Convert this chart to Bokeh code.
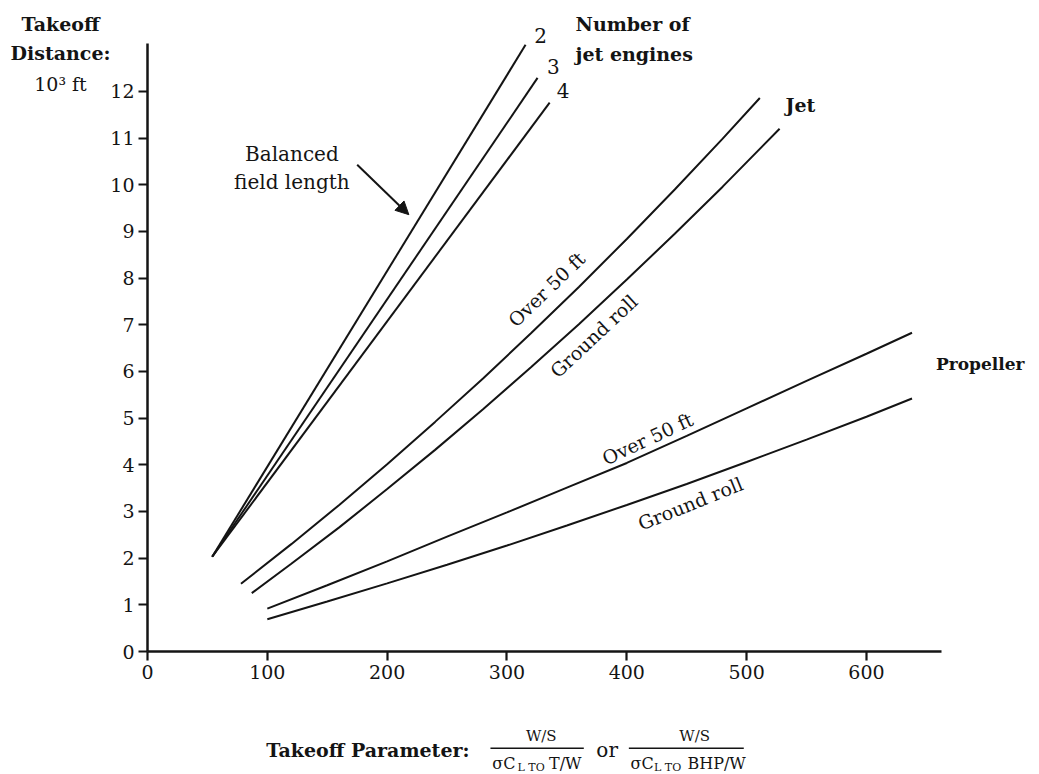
import math
from bokeh.plotting import figure
from bokeh.models import Label, Arrow, NormalHead, FixedTicker, Range1d
from bokeh.embed import file_html
from bokeh.resources import INLINE

# ---------------- data ----------------
x_ticks = [0, 100, 200, 300, 400, 500, 600]
y_ticks = list(range(0, 13))

# Balanced field length, by number of jet engines
bfl2_x = [54, 315.5]
bfl2_y = [2.03, 13.0]
bfl3_x = [54, 325.5]
bfl3_y = [2.03, 12.29]
bfl4_x = [54, 335.6]
bfl4_y = [2.03, 11.76]

# Jet
jet_over_x = [78, 120, 160, 200, 240, 280, 320, 360, 400, 440, 480, 511]
jet_over_y = [1.45, 2.30, 3.14, 4.01, 4.92, 5.85, 6.82, 7.81, 8.84, 9.90, 10.99, 11.86]
jet_ground_x = [87, 120, 160, 200, 240, 280, 320, 360, 400, 440, 480, 527.5]
jet_ground_y = [1.25, 1.88, 2.66, 3.48, 4.32, 5.19, 6.09, 7.01, 7.97, 8.95, 9.96, 11.2]

# Propeller
prop_x = [100, 150, 200, 250, 300, 350, 400, 450, 500, 550, 600, 638]
prop_over_y = [0.92, 1.42, 1.93, 2.46, 2.98, 3.51, 4.04, 4.62, 5.21, 5.80, 6.38, 6.83]
prop_ground_y = [0.69, 1.07, 1.46, 1.86, 2.27, 2.70, 3.14, 3.59, 4.06, 4.54, 5.03, 5.42]

# ---------------- figure ----------------
INK = "#141414"
SERIF = "DejaVu Serif"

W, H = 1035, 774
X0, Y0 = 147.0, 651.0          # pixel position of the origin
SX, SY = 1.1983, 46.67         # pixels per data unit

p = figure(
    width=W, height=H,
    x_range=Range1d(-X0 / SX, (W - X0) / SX),
    y_range=Range1d(-(H - Y0) / SY, Y0 / SY),
    output_backend="svg", toolbar_location=None, title=None,
    min_border=0, min_border_left=0, min_border_right=0,
    min_border_top=0, min_border_bottom=0,
)
p.xgrid.visible = False
p.ygrid.visible = False
p.outline_line_color = None
p.background_fill_color = "white"
p.border_fill_color = "white"

p.xaxis.ticker = FixedTicker(ticks=x_ticks)
p.yaxis.ticker = FixedTicker(ticks=y_ticks)
p.xaxis.fixed_location = 0
p.yaxis.fixed_location = 0
p.xaxis.bounds = (0, 662.6)
p.yaxis.bounds = (0, 13.02)
for ax in (p.xaxis, p.yaxis):
    ax.axis_line_width = 2.5
    ax.axis_line_color = INK
    ax.major_tick_line_width = 2.2
    ax.major_tick_line_color = INK
    ax.major_tick_out = 9
    ax.major_tick_in = 0
    ax.minor_tick_out = 0
    ax.minor_tick_in = 0
    ax.major_label_text_font = SERIF
    ax.major_label_text_font_size = "19px"
    ax.major_label_text_color = INK
p.xaxis.major_label_standoff = 4
p.yaxis.major_label_standoff = 4

LW = 2
for xs, ys in [(bfl2_x, bfl2_y), (bfl3_x, bfl3_y), (bfl4_x, bfl4_y),
               (jet_over_x, jet_over_y), (jet_ground_x, jet_ground_y),
               (prop_x, prop_over_y), (prop_x, prop_ground_y)]:
    p.line(xs, ys, line_color=INK, line_width=LW)


def lab(x, y, text, size="19px", bold=False, align="center", angle_deg=0.0, baseline="middle"):
    p.add_layout(Label(
        x=x, y=y, text=text, text_font=SERIF, text_font_size=size,
        text_font_style="bold" if bold else "normal", text_color=INK,
        text_align=align, text_baseline=baseline,
        angle=math.radians(angle_deg),
    ))


# y-axis title
lab(-72.6, 13.45, "Takeoff", bold=True)
lab(-72.6, 12.83, "Distance:", bold=True)
lab(-72.6, 12.16, "10³ ft", size="19px")

# engine numbers
lab(328.0, 13.20, "2", size="20px")
lab(338.6, 12.54, "3", size="20px")
lab(346.9, 12.01, "4", size="20px")
lab(357.2, 13.45, "Number of", bold=True, align="left")
lab(357.2, 12.81, "jet engines", bold=True, align="left")

# balanced field length
lab(120.5, 10.66, "Balanced", size="20px")
lab(120.5, 10.06, "field length", size="20px")
p.add_layout(Arrow(end=NormalHead(size=13, fill_color=INK, line_color=INK),
                   x_start=175.0, y_start=10.43, x_end=218.1, y_end=9.36,
                   line_color=INK, line_width=2))

# Jet
lab(532.4, 11.70, "Jet", bold=True, align="left")
lab(333.0, 7.76, "Over 50 ft", angle_deg=44)
lab(372.4, 6.76, "Ground roll", angle_deg=43)

# Propeller
lab(658.0, 6.16, "Propeller", size="17px", bold=True, align="left")
lab(417.3, 4.56, "Over 50 ft", angle_deg=25)
lab(453.1, 3.17, "Ground roll", angle_deg=22)

# x-axis title with fractions
lab(183.9, -2.106, "Takeoff Parameter:", bold=True)
lab(328.6, -1.821, "W/S", size="15px")
p.add_layout(Arrow(end=None, x_start=286.2, y_start=-2.072, x_end=364.1, y_end=-2.072,
                   line_color=INK, line_width=1.5))
lab(287.7, -2.39, "σC", size="16px", align="left")
lab(308.8, -2.49, "L TO", size="11px", align="left")
lab(335.1, -2.39, "T/W", size="16px", align="left")

lab(383.6, -2.12, "or", size="20px")

lab(456.6, -1.821, "W/S", size="15px")
p.add_layout(Arrow(end=None, x_start=401.7, y_start=-2.072, x_end=497.6, y_end=-2.072,
                   line_color=INK, line_width=1.5))
lab(403.1, -2.39, "σC", size="16px", align="left")
lab(422.7, -2.49, "L TO", size="11px", align="left")
lab(450.6, -2.39, "BHP/W", size="16px", align="left")

open("out.html", "w").write(file_html(p, INLINE))
